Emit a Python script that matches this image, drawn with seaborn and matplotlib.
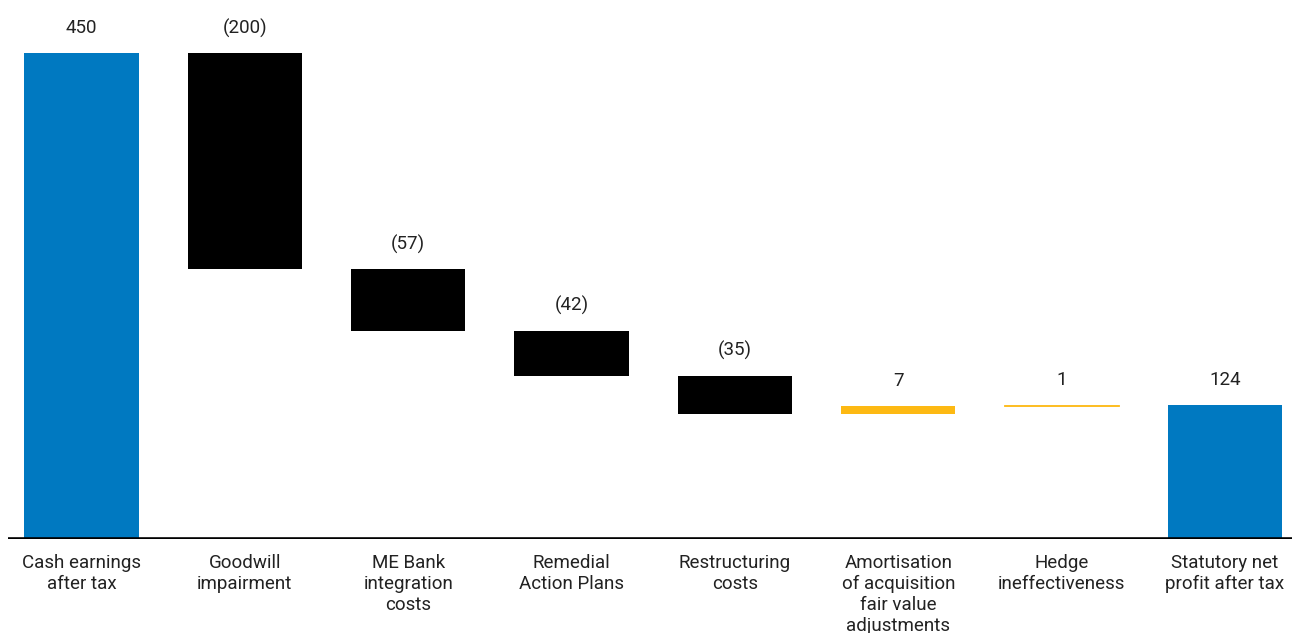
import matplotlib
matplotlib.use("Agg")
import matplotlib.pyplot as plt
import seaborn as sns
import pandas as pd
import numpy as np

# Bridge from cash earnings to statutory net profit ($m)
categories = [
    "Cash earnings\nafter tax",
    "Goodwill\nimpairment",
    "ME Bank\nintegration\ncosts",
    "Remedial\nAction Plans",
    "Restructuring\ncosts",
    "Amortisation\nof acquisition\nfair value\nadjustments",
    "Hedge\nineffectiveness",
    "Statutory net\nprofit after tax",
]
values = [450, -200, -57, -42, -35, 7, 1, 124]
is_total = [True, False, False, False, False, False, False, True]

BLUE = "#0079C1"
BLACK = "#000000"
YELLOW = "#FDB913"

# Floating bar bases: totals start at zero, movements start at the running level
bottoms, running = [], 0
for v, tot in zip(values, is_total):
    if tot:
        bottoms.append(0)
        running = v
    else:
        bottoms.append(running)
        running += v

colors = [BLUE if t else (BLACK if v < 0 else YELLOW) for v, t in zip(values, is_total)]

df = pd.DataFrame({"category": categories, "value": values})

sns.set_theme(style="white")
plt.rcParams["font.family"] = ["Roboto", "DejaVu Sans"]

fig = plt.figure(figsize=(12.92, 6.33), dpi=100)
ax = fig.add_axes([8 / 1292, (633 - 539) / 633, 1 - 8 / 1292, 539 / 633])

sns.barplot(data=df, x="category", y="value", order=categories, bottom=bottoms,
            color=BLUE, width=0.70, linewidth=0, saturation=1, ax=ax, errorbar=None)

for patch, c, v in zip(ax.patches, colors, values):
    patch.set_facecolor(c)
    if abs(v) < 3:
        # very small movements still need a visible hairline in their colour
        patch.set_edgecolor(c)
        patch.set_linewidth(0.6)
    else:
        patch.set_edgecolor("none")

# Value labels above each bar
for i, (v, b) in enumerate(zip(values, bottoms)):
    top = max(b, b + v)
    label = f"({abs(v)})" if v < 0 else f"{v}"
    ax.annotate(label, (i, top), xytext=(0, 18), textcoords="offset points",
                ha="center", va="center", fontsize=13.5, color="#222222")

ax.axhline(0, color="black", lw=2.6, zorder=5)
ax.set_xlim(-0.45, 7.41)
ax.set_ylim(0, 499)
ax.set_xlabel("")
ax.set_ylabel("")
ax.set_yticks([])
ax.set_xticks(range(len(categories)), labels=categories, linespacing=1.2,
              fontsize=13.5, color="#222222", va="top")
sns.despine(ax=ax, left=True, bottom=True)
ax.tick_params(axis="x", length=0, pad=11)

fig.savefig("out.png", dpi=100)
